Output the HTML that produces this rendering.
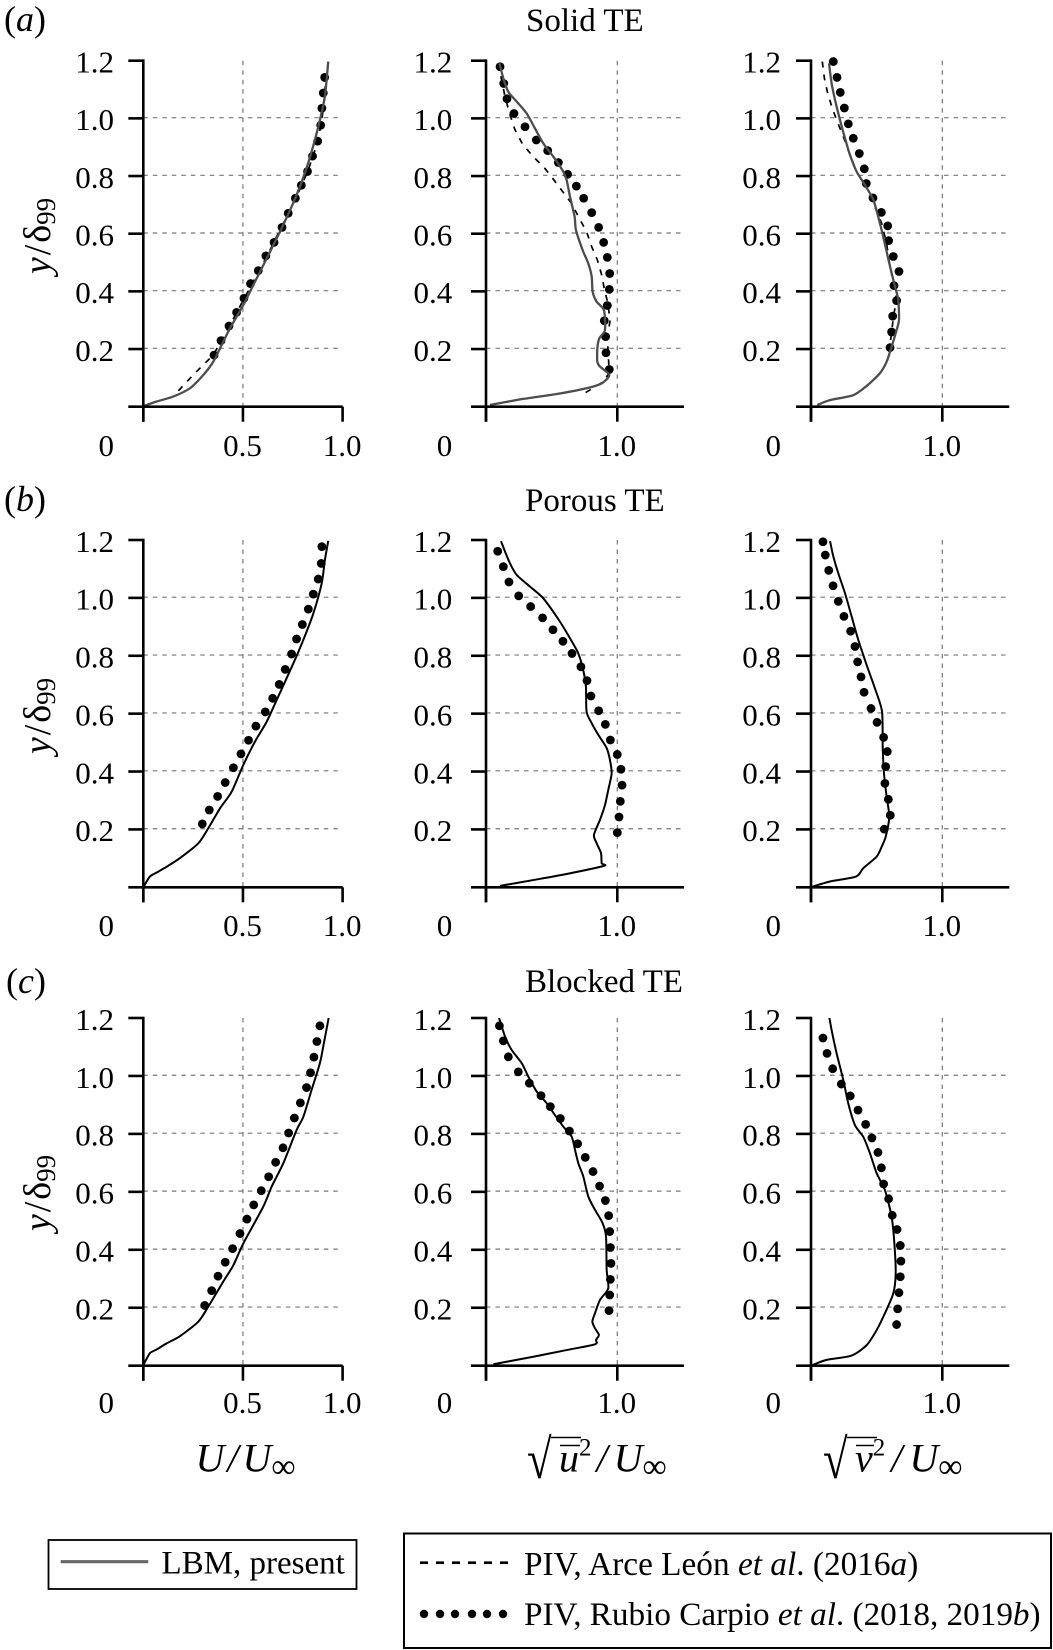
<!DOCTYPE html>
<html lang="en">
<head>
<meta charset="utf-8">
<title>Boundary layer profiles: Solid, Porous and Blocked TE</title>
<style>
html,body{margin:0;padding:0;background:#fff;}
svg{display:block;font-family:"Liberation Serif",serif;fill:#000;}
</style>
</head>
<body>
<svg id="chart" xmlns="http://www.w3.org/2000/svg" width="1053" height="1650" viewBox="0 0 1053 1650">
  <rect x="0" y="0" width="1053" height="1650" fill="#fff"/>
  <g id="panels"></g>

  <text x="4" y="31" font-size="36">(<tspan font-style="italic">a</tspan>)</text>
  <text x="4" y="511" font-size="36">(<tspan font-style="italic">b</tspan>)</text>
  <text x="6" y="993" font-size="36">(<tspan font-style="italic">c</tspan>)</text>

  <text x="526" y="31" font-size="33">Solid TE</text>
  <text x="525" y="511" font-size="33">Porous TE</text>
  <text x="525" y="992" font-size="33">Blocked TE</text>

  <text transform="translate(50,236) rotate(-90)" text-anchor="middle" font-size="38"><tspan font-style="italic">y</tspan><tspan dx="2">/</tspan><tspan dx="2">δ</tspan><tspan font-size="27" dy="5">99</tspan></text>
  <text transform="translate(50,716) rotate(-90)" text-anchor="middle" font-size="38"><tspan font-style="italic">y</tspan><tspan dx="2">/</tspan><tspan dx="2">δ</tspan><tspan font-size="27" dy="5">99</tspan></text>
  <text transform="translate(50,1193) rotate(-90)" text-anchor="middle" font-size="38"><tspan font-style="italic">y</tspan><tspan dx="2">/</tspan><tspan dx="2">δ</tspan><tspan font-size="27" dy="5">99</tspan></text>

  <g>
    <text x="195.5" y="1471.5" font-size="40" font-style="italic">U<tspan dx="3">/</tspan><tspan dx="4">U</tspan><tspan font-size="34" font-style="normal" dy="6">∞</tspan></text>
  </g>
  <g>
    <text transform="translate(527,1478) scale(0.8,1)" font-size="56">√</text>
    <line x1="551" y1="1437.5" x2="581" y2="1437.5" stroke="#000" stroke-width="1.6"/>
    <line x1="560" y1="1445.5" x2="580" y2="1445.5" stroke="#000" stroke-width="1.6"/>
    <text x="559" y="1471.5" font-size="40" font-style="italic">u<tspan font-size="25" font-style="normal" dy="-16">2</tspan><tspan dy="16" dx="5">/</tspan><tspan dx="6">U</tspan><tspan font-size="34" font-style="normal" dy="6">∞</tspan></text>
  </g>
  <g>
    <text transform="translate(823,1478) scale(0.8,1)" font-size="56">√</text>
    <line x1="847" y1="1437.5" x2="877" y2="1437.5" stroke="#000" stroke-width="1.6"/>
    <line x1="856" y1="1445.5" x2="874" y2="1445.5" stroke="#000" stroke-width="1.6"/>
    <text x="855" y="1471.5" font-size="40" font-style="italic">v<tspan font-size="25" font-style="normal" dy="-16">2</tspan><tspan dy="16" dx="6">/</tspan><tspan dx="7">U</tspan><tspan font-size="34" font-style="normal" dy="6">∞</tspan></text>
  </g>

  <g>
    <rect x="48.5" y="1540" width="308" height="49" fill="#fff" stroke="#000" stroke-width="1.8"/>
    <line x1="60.7" y1="1561.7" x2="148.3" y2="1561.7" stroke="#666" stroke-width="3.2"/>
    <text x="161.5" y="1573.3" font-size="33">LBM, present</text>
  </g>
  <g>
    <rect x="404" y="1533.5" width="647" height="114.5" fill="#fff" stroke="#000" stroke-width="2"/>
    <line x1="420" y1="1562.7" x2="508" y2="1562.7" stroke="#000" stroke-width="2.6" stroke-dasharray="8 8"/>
    <text x="524" y="1575" font-size="33.3">PIV, Arce León <tspan font-style="italic">et al</tspan>. (2016<tspan font-style="italic">a</tspan>)</text>
    <g fill="#000">
      <circle cx="424" cy="1614" r="4.2"/>
      <circle cx="440" cy="1614" r="4.2"/>
      <circle cx="455" cy="1614" r="4.2"/>
      <circle cx="472" cy="1614" r="4.2"/>
      <circle cx="487" cy="1614" r="4.2"/>
      <circle cx="503" cy="1614" r="4.2"/>
    </g>
    <text x="524" y="1625" font-size="33.2">PIV, Rubio Carpio <tspan font-style="italic">et al</tspan>. (2018, 2019<tspan font-style="italic">b</tspan>)</text>
  </g>
</svg>

<script>
// Tick values and labels
const yTickValues = [0.2, 0.4, 0.6, 0.8, 1.0, 1.2];
const yTickLabels = ['0.2', '0.4', '0.6', '0.8', '1.0', '1.2'];
const meanXTickValues = [0, 0.5, 1.0];
const meanXTickLabels = ['0', '0.5', '1.0'];
const rmsXTickValues = [0, 1.0];
const rmsXTickLabels = ['0', '1.0'];

// Solid TE: mean velocity
const solidULineX = [0,.067,.15,.234,.301,.351,.393,.435,.502,.552,.619,.702,.769,.819,.861,.886,.911,.928];
const solidULineY = [.002,.018,.035,.064,.11,.156,.214,.272,.353,.422,.514,.63,.734,.827,.925,.994,1.075,1.197];
const solidUDashX = [.176,.242,.301,.351,.435,.502,.619,.702,.769,.828,.878,.9,.916];
const solidUDashY = [.055,.104,.145,.179,.283,.37,.52,.636,.728,.821,.925,1.017,1.133];
const solidUDotX = [.355,.39,.43,.468,.505,.538,.577,.615,.656,.696,.727,.763,.793,.824,.849,.875,.89,.896,.903,.91];
const solidUDotY = [.179,.229,.28,.327,.376,.427,.472,.523,.57,.622,.671,.723,.768,.816,.869,.921,.976,1.035,1.088,1.142];

// Solid TE: u rms
const solidUrmsLineX = [.03,.284,.538,.766,.881,.939,.868,.848,.848,.863,.906,.898,.843,.812,.805,.779,.736,.685,.675,.64,.614,.589,.513,.437,.373,.31,.234,.17,.132,.102];
const solidUrmsLineY = [.006,.027,.044,.064,.081,.11,.139,.156,.202,.237,.266,.335,.364,.399,.451,.497,.543,.613,.659,.728,.786,.815,.867,.913,.965,1.017,1.058,1.092,1.139,1.191];
const solidUrmsDashX = [.759,.881,.939,.924,.944,.931,.898,.881,.848,.805,.766,.711,.652,.584,.518,.444,.36,.279,.221,.183,.145,.119,.094];
const solidUrmsDashY = [.049,.083,.116,.243,.295,.353,.416,.457,.509,.555,.607,.653,.705,.746,.786,.829,.867,.91,.96,1.012,1.075,1.133,1.191];
const solidUrmsDotX = [.107,.135,.16,.213,.297,.383,.47,.551,.622,.688,.744,.805,.858,.896,.924,.942,.939,.924,.901,.911,.914,.939];
const solidUrmsDotY = [1.179,1.121,1.068,1.017,.971,.925,.888,.847,.806,.765,.723,.673,.622,.57,.518,.462,.407,.351,.298,.243,.187,.129];

// Solid TE: v rms
const solidVrmsLineX = [.048,.145,.322,.424,.525,.576,.614,.652,.67,.665,.64,.602,.556,.525,.475,.411,.348,.297,.259,.221,.183,.157,.137];
const solidVrmsLineY = [.006,.023,.04,.072,.116,.156,.208,.266,.301,.37,.416,.486,.578,.636,.717,.769,.815,.873,.931,.994,1.064,1.121,1.191];
const solidVrmsDashX = [.086,.102,.127,.165,.208,.251,.292,.348,.424,.487,.538,.576,.602,.632,.652,.627,.614,.596];
const solidVrmsDashY = [1.197,1.139,1.087,1.031,.98,.931,.879,.815,.757,.694,.636,.566,.486,.422,.37,.312,.254,.204];
const solidVrmsDotX = [.17,.198,.223,.254,.284,.322,.368,.406,.421,.472,.536,.584,.591,.627,.67,.632,.652,.622,.614,.602];
const solidVrmsDotY = [1.197,1.142,1.09,1.036,.981,.931,.878,.825,.774,.724,.674,.627,.576,.521,.469,.42,.368,.314,.259,.205];

// Porous TE: mean velocity
const porousULineX = [0,.033,.067,.117,.184,.276,.326,.385,.443,.502,.56,.619,.677,.753,.803,.853,.895,.911,.928];
const porousULineY = [0,.037,.051,.071,.101,.152,.204,.273,.33,.423,.503,.572,.659,.774,.855,.946,1.05,1.13,1.197];
const porousUDotX = [.296,.331,.373,.411,.452,.49,.528,.565,.612,.649,.682,.712,.744,.769,.798,.828,.853,.878,.893,.896];
const porousUDotY = [.219,.267,.314,.362,.413,.461,.508,.557,.606,.653,.701,.753,.806,.858,.908,.961,1.013,1.065,1.119,1.177];

// Porous TE: u rms
const porousUrmsLineX = [.107,.36,.614,.898,.881,.876,.843,.822,.868,.906,.931,.957,.944,.919,.855,.805,.766,.761,.741,.703,.64,.563,.437,.335,.234,.183,.145,.114];
const porousUrmsLineY = [.005,.025,.046,.074,.083,.118,.152,.181,.233,.284,.336,.394,.44,.481,.527,.567,.607,.693,.75,.808,.86,.918,.998,1.039,1.079,1.119,1.16,1.196];
const porousUrmsDotX = [.089,.132,.175,.249,.34,.431,.51,.586,.655,.723,.769,.799,.858,.909,.947,1.0,1.028,1.036,1.023,1.013,1.0];
const porousUrmsDotY = [1.161,1.108,1.055,1.007,.97,.931,.89,.85,.808,.762,.714,.661,.61,.563,.509,.459,.408,.353,.297,.243,.189];

// Porous TE: v rms
const porousVrmsLineX = [.01,.145,.343,.398,.5,.538,.569,.596,.576,.556,.546,.541,.487,.424,.36,.31,.259,.208,.17,.145];
const porousVrmsLineY = [.002,.02,.037,.066,.106,.14,.175,.244,.313,.393,.486,.607,.687,.768,.855,.935,1.016,1.085,1.143,1.196];
const porousVrmsDotX = [.091,.109,.135,.168,.208,.251,.302,.335,.355,.381,.404,.457,.503,.553,.581,.569,.563,.589,.604,.558];
const porousVrmsDotY = [1.194,1.148,1.095,1.042,.988,.936,.885,.832,.779,.727,.674,.618,.57,.518,.469,.417,.359,.304,.249,.201];

// Blocked TE: mean velocity
const blockedULineX = [0,.033,.067,.117,.184,.276,.326,.401,.452,.502,.602,.644,.702,.769,.803,.844,.886,.906,.93];
const blockedULineY = [.002,.043,.056,.077,.102,.152,.204,.29,.347,.422,.549,.618,.698,.813,.859,.951,1.044,1.113,1.2];
const blockedUDotX = [.308,.343,.375,.411,.448,.485,.52,.554,.592,.629,.664,.701,.729,.758,.788,.819,.839,.856,.871,.886];
const blockedUDotY = [.208,.259,.309,.357,.404,.456,.506,.555,.604,.652,.702,.752,.803,.855,.907,.96,1.011,1.065,1.119,1.173];

// Blocked TE: u rms
const blockedUrmsLineX = [.056,.36,.614,.83,.838,.86,.83,.81,.83,.868,.931,.919,.914,.888,.83,.779,.741,.703,.678,.652,.589,.525,.462,.386,.322,.272,.195,.145,.099];
const blockedUrmsLineY = [.005,.031,.054,.074,.089,.106,.129,.152,.181,.227,.267,.331,.446,.492,.538,.584,.653,.699,.745,.791,.825,.865,.906,.946,.998,1.044,1.09,1.136,1.2];
const blockedUrmsDotX = [.102,.132,.17,.246,.33,.419,.49,.566,.635,.698,.756,.815,.865,.909,.934,.942,.947,.952,.947,.942,.937];
const blockedUrmsDotY = [1.173,1.121,1.066,1.014,.975,.932,.894,.853,.81,.766,.719,.67,.62,.57,.518,.463,.408,.353,.298,.244,.19];

// Blocked TE: v rms
const blockedVrmsLineX = [.01,.119,.31,.424,.5,.563,.627,.645,.635,.614,.563,.5,.449,.398,.335,.284,.246,.195,.162,.14];
const blockedVrmsLineY = [.002,.02,.035,.071,.123,.181,.25,.319,.422,.514,.606,.664,.733,.79,.83,.905,.986,1.078,1.147,1.2];
const blockedVrmsDotX = [.091,.122,.165,.231,.299,.358,.416,.464,.51,.536,.553,.591,.619,.655,.68,.685,.68,.67,.66,.652];
const blockedVrmsDotY = [1.131,1.078,1.025,.972,.931,.882,.833,.786,.736,.683,.627,.576,.519,.47,.415,.361,.307,.252,.196,.142];

const SVG_NS = 'http://www.w3.org/2000/svg';
function make(tag, attrs, parent) {
  const node = document.createElementNS(SVG_NS, tag);
  for (const key in attrs) node.setAttribute(key, attrs[key]);
  parent.appendChild(node);
  return node;
}

const rowLayouts = [
  { name: 'solid', y0: 406.7, yTop: 60.7, stroke: '#4d4d4d', width: 2.3, labelY: 456 },
  { name: 'porous', y0: 887.3, yTop: 540, stroke: '#000', width: 2, labelY: 936 },
  { name: 'blocked', y0: 1365.7, yTop: 1018, stroke: '#000', width: 2, labelY: 1413 }
];
const columnLayouts = [
  { name: 'mean', x0: 143.3, unit: 199.3, xEnd: 342.7, labelRight: 114, ticks: meanXTickValues, labels: meanXTickLabels },
  { name: 'urms', x0: 486, unit: 131.3, xEnd: 684, labelRight: 452.3, ticks: rmsXTickValues, labels: rmsXTickLabels },
  { name: 'vrms', x0: 811, unit: 131.3, xEnd: 1009.3, labelRight: 781, ticks: rmsXTickValues, labels: rmsXTickLabels }
];
const panelSeries = [
  [
    { lineX: solidULineX, lineY: solidULineY, dashX: solidUDashX, dashY: solidUDashY, dotX: solidUDotX, dotY: solidUDotY },
    { lineX: solidUrmsLineX, lineY: solidUrmsLineY, dashX: solidUrmsDashX, dashY: solidUrmsDashY, dotX: solidUrmsDotX, dotY: solidUrmsDotY },
    { lineX: solidVrmsLineX, lineY: solidVrmsLineY, dashX: solidVrmsDashX, dashY: solidVrmsDashY, dotX: solidVrmsDotX, dotY: solidVrmsDotY }
  ],
  [
    { lineX: porousULineX, lineY: porousULineY, dotX: porousUDotX, dotY: porousUDotY },
    { lineX: porousUrmsLineX, lineY: porousUrmsLineY, dotX: porousUrmsDotX, dotY: porousUrmsDotY },
    { lineX: porousVrmsLineX, lineY: porousVrmsLineY, dotX: porousVrmsDotX, dotY: porousVrmsDotY }
  ],
  [
    { lineX: blockedULineX, lineY: blockedULineY, dotX: blockedUDotX, dotY: blockedUDotY },
    { lineX: blockedUrmsLineX, lineY: blockedUrmsLineY, dotX: blockedUrmsDotX, dotY: blockedUrmsDotY },
    { lineX: blockedVrmsLineX, lineY: blockedVrmsLineY, dotX: blockedVrmsDotX, dotY: blockedVrmsDotY }
  ]
];

const AXIS_MAX_Y = 1.2;
const root = document.getElementById('panels');

function polyPoints(xs, ys, sx, sy) {
  return xs.map(function (v, i) { return sx(v).toFixed(2) + ',' + sy(ys[i]).toFixed(2); }).join(' ');
}

// Smooth curve through the data points (Catmull-Rom style with light tension)
function smoothPath(xs, ys, sx, sy) {
  const pts = xs.map(function (v, i) { return [sx(v), sy(ys[i])]; });
  let d = 'M' + pts[0][0].toFixed(2) + ' ' + pts[0][1].toFixed(2);
  for (let i = 0; i < pts.length - 1; i++) {
    const p0 = pts[Math.max(i - 1, 0)];
    const p1 = pts[i];
    const p2 = pts[i + 1];
    const p3 = pts[Math.min(i + 2, pts.length - 1)];
    const k = 1 / 8;
    d += ' C' + (p1[0] + (p2[0] - p0[0]) * k).toFixed(2) + ' ' + (p1[1] + (p2[1] - p0[1]) * k).toFixed(2) +
         ' ' + (p2[0] - (p3[0] - p1[0]) * k).toFixed(2) + ' ' + (p2[1] - (p3[1] - p1[1]) * k).toFixed(2) +
         ' ' + p2[0].toFixed(2) + ' ' + p2[1].toFixed(2);
  }
  return d;
}

function drawPanel(row, col, series) {
  const sx = function (v) { return col.x0 + v * col.unit; };
  const sy = function (v) { return row.y0 - v * (row.y0 - row.yTop) / AXIS_MAX_Y; };

  const panel = make('g', {}, root);
  
  

  // Grid
  yTickValues.slice(0, 5).forEach(function (v) {
    const grid = make('line', { x1: col.x0, x2: col.xEnd, y1: sy(v) - 0.7, y2: sy(v) - 0.7, stroke: '#777', 'stroke-width': 1.2, 'stroke-dasharray': '4.5 5' }, panel);
    
    
  });
  col.ticks.forEach(function (v) {
    if (v === 0 || (col.name === 'mean' && v === 1)) return;
    const vgrid = make('line', { x1: sx(v), x2: sx(v), y1: row.yTop, y2: row.y0, stroke: '#777', 'stroke-width': 1.2, 'stroke-dasharray': '4.5 5' }, panel);
    
    
  });

  // Series
  if (series.dashX) {
    const dash = make('polyline', { points: polyPoints(series.dashX, series.dashY, sx, sy), fill: 'none', stroke: '#000', 'stroke-width': 1.7, 'stroke-dasharray': '6 7' }, panel);
    
    
  }
  series.dotX.forEach(function (v, i) {
    const dot = make('circle', { cx: sx(v), cy: sy(series.dotY[i]), r: 4.4, fill: '#000' }, panel);
    
    
  });
  const line = make('path', { d: smoothPath(series.lineX, series.lineY, sx, sy), fill: 'none', stroke: row.stroke, 'stroke-width': row.width, 'stroke-linejoin': 'round' }, panel);
  
  

  // Axes
  const yAxis = make('line', { x1: col.x0, x2: col.x0, y1: row.yTop - 1.3, y2: row.y0 + 15, stroke: '#000', 'stroke-width': 2.6 }, panel);
  
  
  const xAxis = make('line', { x1: col.x0 - 15, x2: col.xEnd, y1: row.y0, y2: row.y0, stroke: '#000', 'stroke-width': 2.6 }, panel);
  
  

  // Y ticks
  yTickValues.forEach(function (v, i) {
    const tick = make('line', { x1: col.x0 - 15, x2: col.x0, y1: sy(v), y2: sy(v), stroke: '#000', 'stroke-width': 2.6 }, panel);
    
    
    const label = make('text', { x: col.labelRight, y: sy(v) + 11.8, 'text-anchor': 'end', 'font-size': 31 }, panel);
    
    
    label.textContent = yTickLabels[i];
  });

  // X ticks
  col.ticks.forEach(function (v, i) {
    const tick = make('line', { x1: sx(v), x2: sx(v), y1: row.y0, y2: row.y0 + 15, stroke: '#000', 'stroke-width': 2.6 }, panel);
    
    
    const isZero = v === 0;
    const label = make('text', { x: isZero ? col.labelRight : sx(v) - 0.5, y: row.labelY, 'text-anchor': isZero ? 'end' : 'middle', 'font-size': 31 }, panel);
    
    
    label.textContent = col.labels[i];
  });
}

rowLayouts.forEach(function (row, r) {
  columnLayouts.forEach(function (col, c) {
    drawPanel(row, col, panelSeries[r][c]);
  });
});
</script>
</body>
</html>
